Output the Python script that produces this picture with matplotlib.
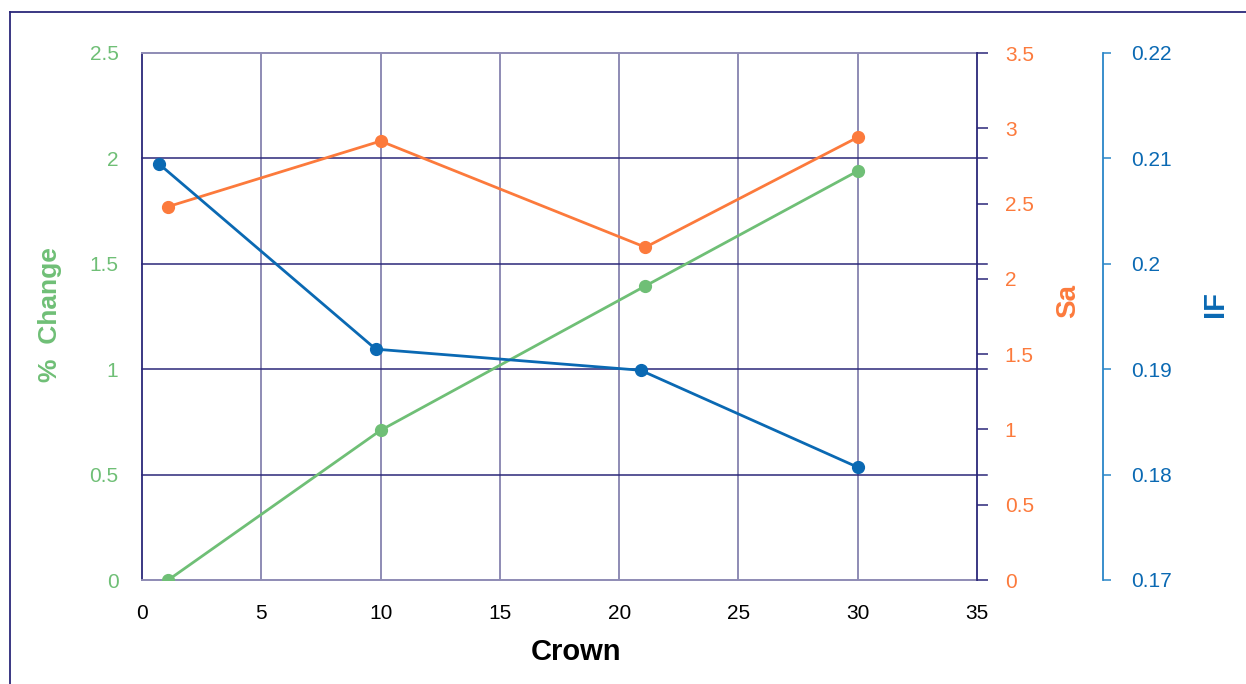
import matplotlib
matplotlib.use('Agg')
import matplotlib.pyplot as plt
from matplotlib.lines import Line2D

plt.rcParams['font.family'] = ['Liberation Sans', 'DejaVu Sans']

# data
crown_change = [1.1, 10.0, 21.1, 30.0]
pct_change = [0.0, 0.71, 1.395, 1.94]
crown_sa = [1.1, 10.0, 21.1, 30.0]
sa = [2.48, 2.915, 2.21, 2.94]
crown_if = [0.7, 9.8, 20.9, 30.0]
if_vals = [0.2095, 0.1919, 0.1899, 0.1807]

xticks = [0, 5, 10, 15, 20, 25, 30, 35]
change_ticks = [0, 0.5, 1, 1.5, 2, 2.5]
sa_ticks = [0, 0.5, 1, 1.5, 2, 2.5, 3, 3.5]
if_ticks = [0.17, 0.18, 0.19, 0.2, 0.21, 0.22]

green = '#6fbf76'
orange = '#fc7a3c'
blue = '#0a69b3'
navy = '#2b2779'
lilac = '#8e8bb4'

fig = plt.figure(figsize=(12.46, 6.84), dpi=100)
ax = fig.add_axes([142 / 1246, 104 / 684, 835 / 1246, 527 / 684])

# frame lines round the figure (top and left only)
fig.add_artist(Line2D([10 / 1246, 1.0], [1 - 12 / 684, 1 - 12 / 684],
                      transform=fig.transFigure, color=navy, lw=1.3))
fig.add_artist(Line2D([10 / 1246, 10 / 1246], [0, 1 - 12 / 684],
                      transform=fig.transFigure, color=navy, lw=1.3))

ax.set_xlim(0, 35)
ax.set_ylim(0, 2.5)
ax.set_xticks(xticks)
ax.set_yticks(change_ticks)
ax.set_yticklabels(['0', '0.5', '1', '1.5', '2', '2.5'])
ax.tick_params(axis='x', length=0, pad=17, labelsize=15, colors='black')
ax.tick_params(axis='y', length=0, pad=17, labelsize=15, colors=green)

for x in xticks[1:-1]:
    ax.axvline(x, color=lilac, lw=1.4, zorder=1)
for y in change_ticks[1:-1]:
    ax.axhline(y, xmin=0, xmax=1.012, color=navy, lw=1.1, zorder=1, clip_on=False)

ax.spines['left'].set_color(navy)
ax.spines['left'].set_linewidth(1.3)
for s in ['top', 'bottom']:
    ax.spines[s].set_color(lilac)
    ax.spines[s].set_linewidth(1.4)
ax.spines['right'].set_visible(False)

ax.plot(crown_change, pct_change, color=green, lw=2, marker='o', ms=8.5, zorder=3)

ax.set_xlabel('Crown', fontsize=21, fontweight='bold')
ax.xaxis.set_label_coords(0.52, -0.11)
ax.set_ylabel('%  Change', fontsize=19, fontweight='bold', color=green, va='center')
ax.yaxis.set_label_coords(-0.110, 0.503)

# Sa axis
ax2 = ax.twinx()
ax2.set_ylim(0, 3.5)
ax2.set_yticks(sa_ticks)
ax2.set_yticklabels(['0', '0.5', '1', '1.5', '2', '2.5', '3', '3.5'])
ax2.tick_params(axis='y', length=8, width=1.1, color=navy, pad=12,
                labelsize=15, labelcolor=orange)
for s in ['top', 'bottom', 'left']:
    ax2.spines[s].set_visible(False)
ax2.spines['right'].set_color(navy)
ax2.spines['right'].set_linewidth(1.3)
ax2.plot(crown_sa, sa, color=orange, lw=2, marker='o', ms=8.5, zorder=3)
ax2.set_ylabel('Sa', fontsize=20, fontweight='bold', color=orange, va='center')
ax2.yaxis.set_label_coords(1.109, 0.53)

# IF axis
ax3 = ax.twinx()
ax3.set_ylim(0.17, 0.22)
ax3.set_yticks(if_ticks)
ax3.set_yticklabels(['0.17', '0.18', '0.19', '0.2', '0.21', '0.22'])
ax3.spines['right'].set_position(('axes', 1.151))
for s in ['top', 'bottom', 'left']:
    ax3.spines[s].set_visible(False)
ax3.spines['right'].set_color('#2a86c8')
ax3.spines['right'].set_linewidth(1.3)
ax3.tick_params(axis='y', length=6, width=1.1, color='#2a86c8', pad=14,
                labelsize=15, labelcolor=blue)
ax3.plot(crown_if, if_vals, color=blue, lw=2, marker='o', ms=8.5, zorder=3)
ax3.set_ylabel('IF', fontsize=21, fontweight='bold', color=blue, va='center')
ax3.yaxis.set_label_coords(1.285, 0.524)

fig.savefig('out.png', dpi=100)
